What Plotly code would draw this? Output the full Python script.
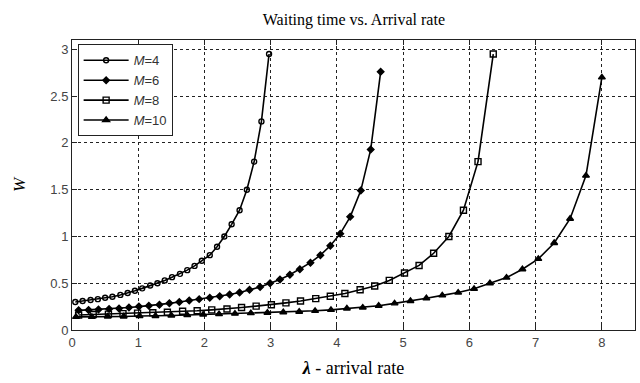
import plotly.graph_objects as go

# ---- data ----
lam_m4 = [0.05, 0.16, 0.28, 0.39, 0.50, 0.61, 0.73, 0.84, 0.95, 1.06, 1.18, 1.29, 1.40, 1.51,
          1.63, 1.74, 1.85, 1.96, 2.08, 2.19, 2.30, 2.41, 2.53, 2.64, 2.75, 2.86, 2.975]
w_m4 = [0.30, 0.31, 0.32, 0.33, 0.345, 0.355, 0.375, 0.395, 0.42, 0.445, 0.475, 0.50, 0.53, 0.565,
        0.60, 0.64, 0.685, 0.74, 0.80, 0.89, 1.00, 1.13, 1.28, 1.50, 1.80, 2.23, 2.95]

lam_m6 = [0.10, 0.25, 0.40, 0.56, 0.71, 0.86, 1.01, 1.16, 1.32, 1.47, 1.62, 1.77, 1.92, 2.08, 2.23,
          2.38, 2.53, 2.68, 2.84, 2.99, 3.14, 3.29, 3.44, 3.60, 3.75, 3.90, 4.05, 4.20, 4.36, 4.51, 4.66]
w_m6 = [0.21, 0.215, 0.22, 0.225, 0.23, 0.24, 0.25, 0.26, 0.27, 0.285, 0.30, 0.315, 0.33, 0.345, 0.36,
        0.38, 0.40, 0.43, 0.46, 0.50, 0.54, 0.59, 0.65, 0.72, 0.80, 0.90, 1.03, 1.21, 1.49, 1.93, 2.76]

lam_m8 = [0.10, 0.32, 0.55, 0.77, 0.99, 1.22, 1.44, 1.67, 1.89, 2.11, 2.34, 2.56, 2.78, 3.01, 3.23,
          3.45, 3.68, 3.90, 4.12, 4.35, 4.57, 4.79, 5.02, 5.24, 5.46, 5.69, 5.91, 6.13, 6.36]
w_m8 = [0.16, 0.165, 0.17, 0.175, 0.18, 0.185, 0.19, 0.20, 0.205, 0.215, 0.225, 0.24, 0.255, 0.27, 0.29,
        0.31, 0.335, 0.36, 0.39, 0.43, 0.47, 0.53, 0.61, 0.69, 0.82, 1.00, 1.28, 1.80, 2.95]

lam_m10 = [0.06, 0.30, 0.54, 0.78, 1.02, 1.26, 1.50, 1.74, 1.98, 2.22, 2.46, 2.70, 2.95, 3.19, 3.43,
           3.67, 3.91, 4.15, 4.39, 4.63, 4.87, 5.11, 5.35, 5.59, 5.83, 6.07, 6.31, 6.56, 6.80, 7.04,
           7.28, 7.52, 7.76, 8.00]
w_m10 = [0.14, 0.14, 0.145, 0.145, 0.15, 0.15, 0.155, 0.16, 0.165, 0.17, 0.175, 0.18, 0.185, 0.19, 0.195,
         0.205, 0.215, 0.23, 0.24, 0.26, 0.285, 0.31, 0.34, 0.37, 0.40, 0.44, 0.50, 0.56, 0.65, 0.76,
         0.93, 1.19, 1.65, 2.70]

series_names = ["<i>M</i>=4", "<i>M</i>=6", "<i>M</i>=8", "<i>M</i>=10"]
x_ticks = [0, 1, 2, 3, 4, 5, 6, 7, 8]
y_ticks = [0, 0.5, 1, 1.5, 2, 2.5, 3]
y_tick_labels = ["0", "0.5", "1", "1.5", "2", "2.5", "3"]

# ---- figure ----
styles = [
    dict(symbol="circle-open", size=5),
    dict(symbol="diamond", size=5),
    dict(symbol="square-open", size=6),
    dict(symbol="triangle-up", size=6),
]
data = [(lam_m4, w_m4), (lam_m6, w_m6), (lam_m8, w_m8), (lam_m10, w_m10)]

fig = go.Figure()
for (xs, ys), name, st in zip(data, series_names, styles):
    fig.add_trace(go.Scatter(
        x=xs, y=ys, name=name, mode="lines+markers",
        line=dict(color="black", width=1.6),
        marker=dict(symbol=st["symbol"], size=st["size"], color="black",
                    line=dict(color="black", width=1.4)),
    ))

axis_common = dict(
    showline=True, linecolor="#222", linewidth=1, mirror="ticks",
    ticks="inside", ticklen=5, tickcolor="#222",
    showgrid=True, gridcolor="#222", gridwidth=1, griddash="dot",
    zeroline=False,
    tickfont=dict(family="Liberation Sans, Arial", size=13, color="#444"),
)

fig.update_layout(
    width=640, height=383,
    margin=dict(l=72, r=5, t=40, b=53),
    paper_bgcolor="white", plot_bgcolor="white",
    title=dict(text="Waiting time vs. Arrival rate", x=0.553, xanchor="center", y=0.95, yanchor="middle",
               font=dict(family="Liberation Serif, Times New Roman", size=16, color="black")),
    xaxis=dict(range=[0, 8.5], tickvals=x_ticks,
               title=dict(text="<b><i>λ</i></b> - arrival rate", standoff=12,
                          font=dict(family="Liberation Serif, Times New Roman", size=18, color="black")),
               **axis_common),
    yaxis=dict(range=[0, 3.1], tickvals=y_ticks, ticktext=y_tick_labels,
               title=dict(text="<i>W</i>", standoff=20,
                          font=dict(family="Liberation Serif, Times New Roman", size=17, color="black")),
               **axis_common),
    legend=dict(x=0.01, y=0.985, xanchor="left", yanchor="top",
                bgcolor="white", bordercolor="#222", borderwidth=1,
                font=dict(family="Liberation Sans, Arial", size=13, color="#333"),
                tracegroupgap=0, itemwidth=45),
    showlegend=True,
)

fig.write_html("out.html")
